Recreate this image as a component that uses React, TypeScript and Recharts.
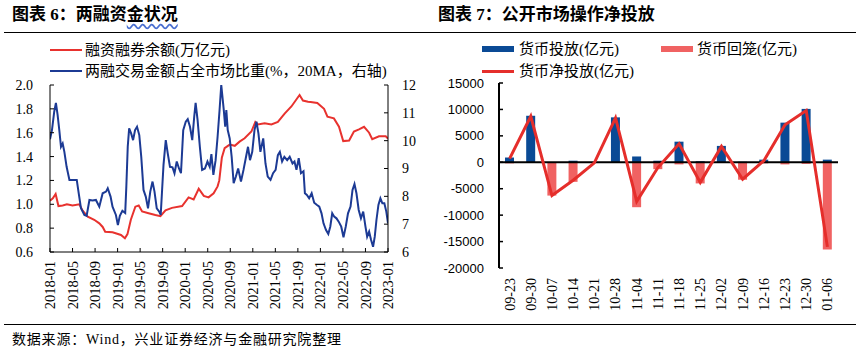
import React from "react"
import {
    LineChart,
    Line,
    XAxis,
    YAxis,
    ComposedChart,
    Bar,
    ReferenceLine,
} from "recharts"

const SERIF = '"Liberation Serif", "Noto Sans CJK SC", serif'
const SANS = '"Liberation Sans", "Noto Sans CJK SC", sans-serif'

// ---- 图表6：两融资金状况 ----
const dateTicks = [
    "2018-01", "2018-05", "2018-09", "2019-01", "2019-05", "2019-09", "2020-01", "2020-05",
    "2020-09", "2021-01", "2021-05", "2021-09", "2022-01", "2022-05", "2022-09", "2023-01",
]

// x = half-months since 2018-01
const balanceIdx = [
    0, 1, 2, 3, 4.5, 6, 8, 10.4, 11.6, 13.4, 15.7, 17.5, 18.7, 19.6, 22.2, 25.2, 26.6, 27.5, 28.7, 30.3,
    31.5, 32.7, 35, 37.4, 39.2, 41, 43.3, 46.9, 49.2, 51, 52.8, 54.6, 56.3, 58.1, 59.5, 60.1, 61, 62,
    63.8, 65.6, 67.3, 69.1, 71.5, 72.9, 73.8, 76.2, 78.6, 80.9, 83.3, 85.7, 88.6, 89.8, 91.6, 92.5,
    94.9, 97.3, 98.5, 100.8, 102.6, 104.1, 106.2, 107.9, 109.7, 111.5, 113.3, 114.4, 116.8, 119.2, 120,
]
const balanceValues = [
    1.03, 1.05, 1.086, 0.985, 0.99, 1.0, 0.99, 1.0, 0.946, 0.896, 0.87, 0.84, 0.81, 0.77, 0.765, 0.743, 0.715, 0.75, 0.87, 0.98,
    0.99, 0.94, 0.925, 0.91, 0.9, 0.95, 0.97, 0.985, 1.058, 1.04, 1.13, 1.07, 1.058, 1.092, 1.15, 1.2, 1.39, 1.47,
    1.5, 1.49, 1.525, 1.553, 1.61, 1.69, 1.67, 1.68, 1.67, 1.69, 1.76, 1.82, 1.916, 1.87, 1.86, 1.857,
    1.85, 1.8, 1.734, 1.72, 1.65, 1.53, 1.535, 1.61, 1.628, 1.65, 1.6, 1.545, 1.57, 1.57, 1.55,
]

const shareIdx = [
    0, 0.7, 1.5, 2.1, 2.7, 3.3, 3.9, 4.5, 5.1, 5.9, 6.9, 8.1, 9.5, 10.2, 11, 12.2, 13, 14, 15.1, 16.3,
    17.5, 18.7, 19.9, 20.5, 21.5, 22.2, 23.4, 24.1, 24.8, 25.7, 26.7, 27.1, 27.6, 28.1, 28.8, 29.5, 30.2,
    30.9, 31.7, 32.4, 33.2, 34, 34.8, 35.6, 36.4, 37.1, 37.9, 38.8, 39.3, 39.8, 40.3, 41.1, 41.8, 42.6,
    43.5, 44.2, 45, 45.8, 46.5, 47.3, 48.2, 48.9, 49.7, 50.5, 51.2, 51.7, 52.4, 53.2, 54, 55, 55.9, 56.7,
    57.3, 58, 58.8, 59.5, 60.2, 60.8, 61.7, 62.2, 62.6, 63.1, 63.8, 64.5, 65.2, 66, 66.8, 67.8, 68.7,
    69.5, 70.3, 71, 71.8, 72.6, 73.3, 74, 74.7, 75.7, 76.5, 77.3, 78.3, 79.2, 80.1, 80.9, 81.6, 82.4,
    83.2, 84.2, 85.1, 86.1, 86.8, 87.5, 88.3, 89.1, 90, 90.5, 91.2, 92, 92.9, 93.8, 94.8, 95.6, 96.4,
    97.1, 98, 98.8, 99.5, 100.2, 100.9, 101.7, 102.5, 103.4, 104.2, 105, 105.8, 106.7, 107.4, 108.1,
    108.8, 109.6, 110.4, 111.2, 112, 112.6, 113.3, 114, 114.7, 115.3, 115.9, 116.6, 117.3, 118, 118.7,
    119.4, 120,
]
const shareValues = [
    10.05, 10.38, 11.04, 11.36, 10.93, 10.38, 9.78, 9.9, 9.6, 9.06, 8.59, 8.59, 8.59, 8.11, 7.57, 7.33, 7.3, 7.87, 7.85, 7.87,
    7.63, 8.11, 8.17, 8.29, 7.99, 7.63, 7.33, 6.97, 7.3, 7.48, 7.4, 8.35, 9.78, 10.44, 10.26, 10.02, 10.38,
    10.5, 10.2, 9.42, 8.23, 7.99, 7.57, 8.17, 8.53, 8.17, 7.57, 7.45, 7.33, 8.23, 9.13, 10.02, 9.54, 9.06,
    9.04, 8.83, 9.25, 9.0, 8.83, 10.38, 10.68, 10.77, 10.5, 10.02, 10.86, 11.36, 10.74, 9.78, 8.95, 9.0, 9.25, 9.06,
    9.52, 8.77, 9.3, 10.14, 11.1, 12.0, 11.1, 10.5, 11.1, 10.38, 10.08, 9.42, 8.47, 8.71, 9.0, 8.53, 8.95,
    9.37, 9.78, 9.3, 9.6, 10.38, 10.68, 10.26, 9.6, 10.08, 9.18, 8.71, 8.59, 8.83, 8.95, 9.48, 9.6, 9.25,
    9.42, 9.3, 9.42, 9.18, 9.25, 8.95, 9.37, 8.83, 8.9, 8.11, 8.05, 7.93, 8.11, 7.77, 7.69, 7.63, 7.39,
    7.03, 6.79, 6.65, 6.91, 7.39, 7.27, 7.21, 7.09, 6.91, 6.53, 6.91, 7.39, 7.63, 8.23, 8.44,
    8.11, 7.51, 7.21, 7.45, 6.91, 6.55, 6.73, 6.43, 6.19, 6.55, 7.15, 7.69, 7.93, 7.75, 7.75,
    7.45, 7.03,
]

const leftTicks = [0.6, 0.8, 1.0, 1.2, 1.4, 1.6, 1.8, 2.0]
const rightTicks = [6, 7, 8, 9, 10, 11, 12]

// ---- 图表7：公开市场操作净投放 ----
const weeks = ["09-23", "09-30", "10-07", "10-14", "10-21", "10-28", "11-04", "11-11", "11-18", "11-25", "12-02", "12-09", "12-16", "12-23", "12-30", "01-06"]
const injection = [900, 8800, 0, 300, 0, 8500, 1100, 300, 3900, 200, 3100, 100, 500, 7500, 10100, 500]
const withdrawal = [-200, -100, -6300, -3700, -100, -100, -8500, -1300, -400, -4000, -100, -3300, -200, -400, -300, -16500]
const netInjection = [700, 8700, -6300, -3400, -100, 8400, -7400, -1000, 3500, -3800, 3000, -3200, 300, 7100, 9800, -16000]
const omoTicks = [-20000, -15000, -10000, -5000, 0, 5000, 10000, 15000]

const balanceData = balanceIdx.map((t, i) => ({ t, v: balanceValues[i] }))
const shareData = shareIdx.map((t, i) => ({ t, v: shareValues[i] }))
const omoData = weeks.map((week, i) => ({
    week,
    inject: injection[i],
    withdraw: withdrawal[i],
    net: netInjection[i],
}))

function VerticalTick(props: any) {
    const { x, y, payload, label, fontSize } = props
    return (
        <g transform={`translate(${x},${y})`}>
            <text transform="rotate(-90)" textAnchor="end" dy="0.35em" fontSize={fontSize} fontFamily={SERIF} fill="#000">
                {label ?? payload.value}
            </text>
        </g>
    )
}

const legendText: React.CSSProperties = {
    position: "absolute",
    fontFamily: SERIF,
    fontSize: 15,
    lineHeight: "18px",
    whiteSpace: "nowrap",
    color: "#000",
}

export default function App() {
    return (
        <div style={{ position: "absolute", left: 0, top: 0, width: 864, height: 354, background: "#fff", overflow: "hidden" }}>
            {/* titles and rules */}
            <div style={{ position: "absolute", left: 12, top: 4, fontFamily: SERIF, fontSize: 17, fontWeight: 700, lineHeight: "22px", whiteSpace: "nowrap" }}>
                图表 6：两融资
                <span style={{ textDecoration: "underline wavy #4a6fd0", textUnderlineOffset: 3 }}>金状况</span>
            </div>
            <div style={{ position: "absolute", left: 438, top: 4, fontFamily: SERIF, fontSize: 17, fontWeight: 700, lineHeight: "22px", whiteSpace: "nowrap" }}>
                图表 7：公开市场操作净投放
            </div>
            <div style={{ position: "absolute", left: 4, top: 32, width: 852, height: 1, background: "#000" }} />
            <div style={{ position: "absolute", left: 4, top: 324, width: 852, height: 1, background: "#000" }} />
            <div style={{ ...legendText, left: 12, top: 331, fontSize: 14, letterSpacing: 0.8 }}>
                数据来源：Wind，兴业证券经济与金融研究院整理
            </div>

            {/* left legend */}
            <svg style={{ position: "absolute", left: 0, top: 40 }} width={90} height={40}>
                <line x1={50} x2={82} y1={10} y2={10} stroke="#e8322e" strokeWidth={2} />
                <line x1={50} x2={82} y1={31} y2={31} stroke="#1c3a94" strokeWidth={2} />
            </svg>
            <div style={{ ...legendText, left: 85, top: 41 }}>融资融券余额(万亿元)</div>
            <div style={{ ...legendText, left: 85, top: 62 }}>两融交易金额占全市场比重(%，20MA，右轴)</div>

            {/* right legend */}
            <svg style={{ position: "absolute", left: 432, top: 40 }} width={270} height={40}>
                <rect x={50} y={6} width={32} height={6} fill="#0a4a95" />
                <rect x={229} y={6} width={32} height={6} fill="#f06262" />
                <line x1={50} x2={82} y1={31.5} y2={31.5} stroke="#e52e2b" strokeWidth={3} />
            </svg>
            <div style={{ ...legendText, left: 519, top: 40 }}>货币投放(亿元)</div>
            <div style={{ ...legendText, left: 697, top: 40 }}>货币回笼(亿元)</div>
            <div style={{ ...legendText, left: 519, top: 62 }}>货币净投放(亿元)</div>

            {/* 图表6 */}
            <div style={{ position: "absolute", left: 0, top: 0 }}>
                <LineChart width={432} height={330} margin={{ top: 85, right: 0, bottom: 0, left: 0 }}>
                    <XAxis
                        type="number"
                        dataKey="t"
                        domain={[0, 120]}
                        ticks={dateTicks.map((_, i) => i * 8)}
                        interval={0}
                        height={78}
                        tickSize={-4}
                        tickMargin={13}
                        axisLine={{ stroke: "#000" }}
                        tickLine={{ stroke: "#000" }}
                        tick={(p: any) => <VerticalTick {...p} fontSize={14.5} label={dateTicks[Math.round(p.payload.value / 8)]} />}
                        allowDataOverflow
                    />
                    <YAxis
                        yAxisId="l"
                        domain={[0.6, 2.0]}
                        ticks={leftTicks}
                        interval={0}
                        width={50}
                        tickSize={-4}
                        tickMargin={21}
                        tickFormatter={(v: number) => v.toFixed(1)}
                        axisLine={{ stroke: "#000" }}
                        tickLine={{ stroke: "#000" }}
                        tick={{ fill: "#000", fontSize: 14, fontFamily: SERIF }}
                        allowDataOverflow
                    />
                    <YAxis
                        yAxisId="r"
                        orientation="right"
                        domain={[6, 12]}
                        ticks={rightTicks}
                        interval={0}
                        width={44}
                        tickSize={-4}
                        tickMargin={18}
                        axisLine={{ stroke: "#000" }}
                        tickLine={{ stroke: "#000" }}
                        tick={{ fill: "#000", fontSize: 14, fontFamily: SERIF }}
                        allowDataOverflow
                    />
                    <Line
                        yAxisId="l"
                        data={balanceData}
                        dataKey="v"
                        type="linear"
                        stroke="#e8322e"
                        strokeWidth={2}
                        dot={false}
                        isAnimationActive={false}
                    />
                    <Line
                        yAxisId="r"
                        data={shareData}
                        dataKey="v"
                        type="linear"
                        stroke="#1c3a94"
                        strokeWidth={2}
                        dot={false}
                        isAnimationActive={false}
                    />
                </LineChart>
            </div>

            {/* 图表7 */}
            <div style={{ position: "absolute", left: 432, top: 0 }}>
                <ComposedChart
                    width={432}
                    height={330}
                    data={omoData}
                    stackOffset="sign"
                    barSize={9}
                    margin={{ top: 83, right: 26, bottom: 0, left: 0 }}
                >
                    <XAxis
                        dataKey="week"
                        interval={0}
                        height={62}
                        tickSize={0}
                        tickMargin={10}
                        axisLine={false}
                        tickLine={false}
                        tick={(p: any) => <VerticalTick {...p} fontSize={14} />}
                    />
                    <YAxis
                        domain={[-20000, 15000]}
                        ticks={omoTicks}
                        interval={0}
                        width={67}
                        tickSize={-4}
                        tickMargin={19}
                        axisLine={{ stroke: "#000", strokeWidth: 2 }}
                        tickLine={{ stroke: "#000", strokeWidth: 1.5 }}
                        tick={{ fill: "#000", fontSize: 13, fontFamily: SANS }}
                        allowDataOverflow
                    />
                    <Bar dataKey="inject" stackId="a" fill="#0a4a95" isAnimationActive={false} />
                    <Bar dataKey="withdraw" stackId="a" fill="#f06262" isAnimationActive={false} />
                    <ReferenceLine y={0} stroke="#000" strokeWidth={2} />
                    <Line
                        dataKey="net"
                        type="linear"
                        stroke="#e52e2b"
                        strokeWidth={3}
                        dot={false}
                        isAnimationActive={false}
                    />
                </ComposedChart>
            </div>
        </div>
    )
}
